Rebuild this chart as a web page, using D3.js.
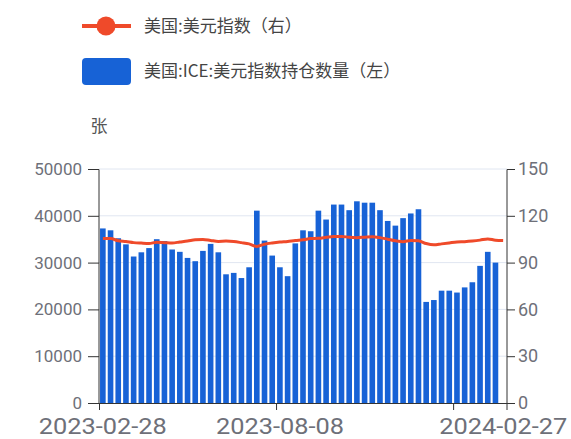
<!DOCTYPE html>
<html>
<head>
<meta charset="utf-8">
<script src="https://cdn.jsdelivr.net/npm/d3@7"></script>
<style>
  body { margin: 0; background: #fff; }
  text { font-family: "Noto Sans CJK SC", "Noto Sans", sans-serif; }
</style>
</head>
<body>
<div class="chart"></div>
<script>
const dates = [
  "2023-02-28","2023-03-07","2023-03-14","2023-03-21","2023-03-28","2023-04-04","2023-04-11",
  "2023-04-18","2023-04-25","2023-05-02","2023-05-09","2023-05-16","2023-05-23","2023-05-30",
  "2023-06-06","2023-06-13","2023-06-20","2023-06-27","2023-07-04","2023-07-11","2023-07-18",
  "2023-07-25","2023-08-01","2023-08-08","2023-08-15","2023-08-22","2023-08-29","2023-09-05",
  "2023-09-12","2023-09-19","2023-09-26","2023-10-03","2023-10-10","2023-10-17","2023-10-24",
  "2023-10-31","2023-11-07","2023-11-14","2023-11-21","2023-11-28","2023-12-05","2023-12-12",
  "2023-12-19","2023-12-26","2024-01-02","2024-01-09","2024-01-16","2024-01-23","2024-01-30",
  "2024-02-06","2024-02-13","2024-02-20","2024-02-27"
];

// 美元指数持仓数量 (左, 张) - last week not yet published
const positions = [
  37300, 36900, 35200, 33900, 31300, 32200, 33100, 35000, 34600, 32800,
  32300, 31000, 30300, 32500, 34000, 32200, 27500, 27800, 26700, 29000,
  41100, 34700, 31500, 29000, 27100, 34100, 36900, 36700, 41100, 39200,
  42400, 42400, 41200, 43100, 42800, 42800, 41200, 38900, 37900, 39500,
  40500, 41400, 21600, 22000, 24000, 24000, 23600, 24700, 25800, 29300,
  32300, 30000, null
];

// 美元指数 (右)
const dxy = [
  105.5, 105.4, 104.0, 103.5, 102.8, 102.5, 102.3, 103.0, 102.8, 102.6,
  103.2, 103.8, 104.6, 104.8, 104.2, 103.6, 103.8, 103.5, 102.8, 102.0,
  100.4, 101.8, 102.6, 103.2, 103.6, 104.2, 104.6, 105.4, 105.6, 106.2,
  106.8, 106.8, 106.2, 106.0, 106.3, 106.6, 106.0, 105.0, 104.0, 103.4,
  104.2, 104.0, 102.2, 101.4, 102.0, 102.6, 103.2, 103.4, 103.8, 104.4,
  105.2, 104.4, 104.2
];

const leftTicks = [0, 10000, 20000, 30000, 40000, 50000];
const rightTicks = [0, 30, 60, 90, 120, 150];
const xLabelIdx = [0, 23, 52];
const xTickIdx = [0, 23, 46];

const seriesNames = ["美国:美元指数（右）", "美国:ICE:美元指数持仓数量（左）"];
const unitLabel = "张";

const width = 571, height = 439;
const margin = {top: 169, right: 64, bottom: 36, left: 99};
const chartW = width - margin.left - margin.right;
const chartH = height - margin.top - margin.bottom;

const barColor = "#1762d6";
const lineColor = "#ef4a2a";
const axisColor = "#333";
const labelColor = "#6e7079";

const svg = d3.select(".chart").append("svg")
  .attr("width", width)
  .attr("height", height);

const g = svg.append("g")
  .attr("transform", "translate(" + margin.left + "," + margin.top + ")");

// one band per week, bars centred in them
const x = d3.scaleBand()
  .domain(d3.range(dates.length))
  .range([0, chartW])
  .padding(0);

const barW = x.bandwidth() * 0.73;
const xc = i => x(i) + x.bandwidth() / 2;

const yL = d3.scaleLinear().domain([0, 50000]).range([chartH, 0]);
const yR = d3.scaleLinear().domain([0, 150]).range([chartH, 0]);

// grid
g.append("g")
  .selectAll("line")
  .data(leftTicks.slice(1))
  .enter().append("line")
  .attr("x1", 0).attr("x2", chartW)
  .attr("y1", d => yL(d)).attr("y2", d => yL(d))
  .attr("stroke", "#e0e6f1");

// bars
g.append("g")
  .selectAll("rect")
  .data(positions.map((v, i) => ({v, i})).filter(d => d.v != null))
  .enter().append("rect")
  .attr("x", d => xc(d.i) - barW / 2)
  .attr("width", barW)
  .attr("y", d => yL(d.v))
  .attr("height", d => chartH - yL(d.v))
  .attr("fill", barColor);

// line
const line = d3.line()
  .x((d, i) => xc(i))
  .y(d => yR(d))
  .curve(d3.curveMonotoneX);

g.append("path")
  .datum(dxy)
  .attr("d", line)
  .attr("fill", "none")
  .attr("stroke", lineColor)
  .attr("stroke-width", 3);

// left axis
const leftAxis = g.append("g")
  .call(d3.axisLeft(yL).tickValues(leftTicks).tickSize(11).tickPadding(6).tickFormat(d3.format("d")));
leftAxis.select(".domain").attr("stroke", axisColor).attr("d", "M0," + (chartH + 0.5) + "V0.5H-11");
leftAxis.selectAll(".tick line").attr("stroke", axisColor);
leftAxis.selectAll(".tick text")
  .attr("fill", labelColor)
  .style("font-family", "Roboto, sans-serif")
  .style("font-size", "17px");

// right axis
const rightAxis = g.append("g")
  .attr("transform", "translate(" + chartW + ",0)")
  .call(d3.axisRight(yR).tickValues(rightTicks).tickSize(8).tickPadding(3));
rightAxis.select(".domain").attr("stroke", axisColor).attr("d", "M0," + (chartH + 7) + "V0.5H8");
rightAxis.selectAll(".tick line").attr("stroke", axisColor);
rightAxis.selectAll(".tick text")
  .attr("fill", labelColor)
  .style("font-family", "Roboto, sans-serif")
  .style("font-size", "18px");

// x axis
g.append("line")
  .attr("x1", 0).attr("x2", chartW)
  .attr("y1", chartH + 0.5).attr("y2", chartH + 0.5)
  .attr("stroke", axisColor);

g.append("g")
  .selectAll("line")
  .data(xTickIdx)
  .enter().append("line")
  .attr("x1", d => x(d) + 0.5)
  .attr("x2", d => x(d) + 0.5)
  .attr("y1", chartH)
  .attr("y2", chartH + 7)
  .attr("stroke", axisColor);

g.append("g")
  .selectAll("text")
  .data(xLabelIdx)
  .enter().append("text")
  .attr("x", d => xc(d))
  .attr("y", chartH + 31)
  .attr("text-anchor", "middle")
  .attr("fill", labelColor)
  .attr("textLength", 128)
  .attr("lengthAdjust", "spacingAndGlyphs")
  .style("font-family", "Roboto, sans-serif")
  .style("font-size", "22px")
  .text(d => dates[d]);

// unit
svg.append("text")
  .attr("x", 99)
  .attr("y", 132)
  .attr("text-anchor", "middle")
  .attr("fill", "#555")
  .style("font-size", "17px")
  .text(unitLabel);

// legend
const legend = svg.append("g");
legend.append("line")
  .attr("x1", 82).attr("x2", 131)
  .attr("y1", 26).attr("y2", 26)
  .attr("stroke", lineColor)
  .attr("stroke-width", 4);
legend.append("circle")
  .attr("cx", 106).attr("cy", 26).attr("r", 9.5)
  .attr("fill", lineColor);
legend.append("rect")
  .attr("x", 82).attr("y", 58)
  .attr("width", 49).attr("height", 27)
  .attr("rx", 4)
  .attr("fill", barColor);

legend.selectAll("text")
  .data(seriesNames)
  .enter().append("text")
  .attr("x", 144)
  .attr("y", (d, i) => 26 + i * 45)
  .attr("dy", "0.35em")
  .attr("fill", "#444")
  .style("font-size", "17px")
  .text(d => d);
</script>
</body>
</html>
